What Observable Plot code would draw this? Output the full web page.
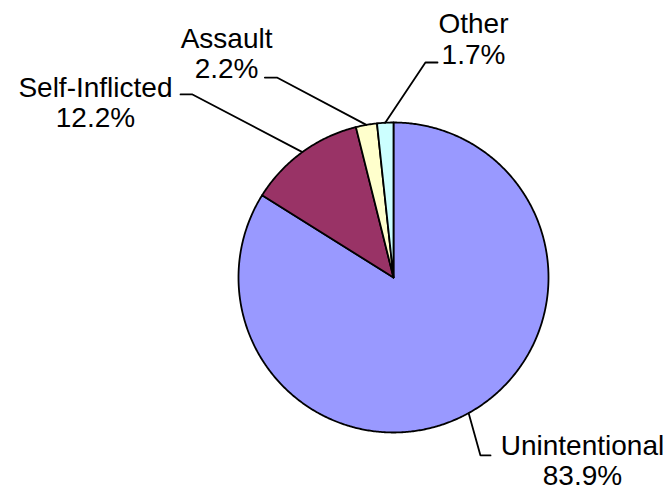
<!DOCTYPE html>
<html>
<head>
<meta charset="utf-8">
<script src="https://cdn.jsdelivr.net/npm/d3@7"></script>
<script src="https://cdn.jsdelivr.net/npm/@observablehq/plot@0.6"></script>
<style>
  html, body { margin: 0; padding: 0; background: #fff; }
  #chart svg { display: block; }
</style>
</head>
<body>
<div id="chart"></div>
<script>
// ---- data ----
const categories = ["Unintentional", "Self-Inflicted", "Assault", "Other"];
const percents = [83.9, 12.2, 2.2, 1.7];
const percentLabels = ["83.9%", "12.2%", "2.2%", "1.7%"];

// ---- styles / layout (pie radius = 1 unit) ----
const sliceColors = ["#9999FF", "#993366", "#FFFFCC", "#CCFFFF"];
const W = 671, H = 492, R = 155, CX = 393, CY = 277;
// leader elbow / end points and label centres, in pie-radius units
const leaderElbows = [[0.561, -1.148], [-1.297, 1.181], [-0.752, 1.29], [0.206, 1.387]];
const leaderEnds   = [[0.626, -1.148], [-1.374, 1.181], [-0.83, 1.29], [0.284, 1.387]];
const labelCentres = [[1.219, -1.178], [-1.923, 1.132], [-1.077, 1.448], [0.516, 1.539]];

// ---- build slices from the data ----
const arcs = d3.pie().sort(null).value(d => d)(percents);
const sliceRows = [];
arcs.forEach((a, i) => {
  sliceRows.push({name: categories[i], x: 0, y: 0});
  const steps = Math.max(4, Math.ceil((a.endAngle - a.startAngle) / (Math.PI / 360)));
  for (let k = 0; k <= steps; k++) {
    const t = a.startAngle + (a.endAngle - a.startAngle) * k / steps;
    sliceRows.push({name: categories[i], x: Math.sin(t), y: Math.cos(t)});
  }
  sliceRows.push({name: categories[i], x: 0, y: 0});
});

const leaderRows = [];
arcs.forEach((a, i) => {
  const m = (a.startAngle + a.endAngle) / 2;
  leaderRows.push({name: categories[i], x: Math.sin(m), y: Math.cos(m)});
  leaderRows.push({name: categories[i], x: leaderElbows[i][0], y: leaderElbows[i][1]});
  leaderRows.push({name: categories[i], x: leaderEnds[i][0], y: leaderEnds[i][1]});
});

const labelRows = categories.map((c, i) => ({
  name: c, text: c + "\n" + percentLabels[i], x: labelCentres[i][0], y: labelCentres[i][1]
}));

const chart = Plot.plot({
  width: W,
  height: H,
  margin: 0,
  x: {domain: [-CX / R, (W - CX) / R], axis: null},
  y: {domain: [-(H - CY) / R, CY / R], axis: null},
  color: {domain: categories, range: sliceColors},
  style: {fontFamily: "'Liberation Sans', Arial, sans-serif", background: "#fff"},
  marks: [
    Plot.line(sliceRows, {x: "x", y: "y", z: "name", fill: "name", stroke: "#000", strokeWidth: 1.8, strokeLinejoin: "round"}),
    Plot.line(leaderRows, {x: "x", y: "y", z: "name", stroke: "#000", strokeWidth: 1.8, strokeLinejoin: "miter"}),
    Plot.text(labelRows, {x: "x", y: "y", text: "text", fontSize: 28, lineHeight: 1.1, textAnchor: "middle", lineAnchor: "middle", fill: "#000"})
  ]
});
document.getElementById("chart").appendChild(chart);
</script>
</body>
</html>
